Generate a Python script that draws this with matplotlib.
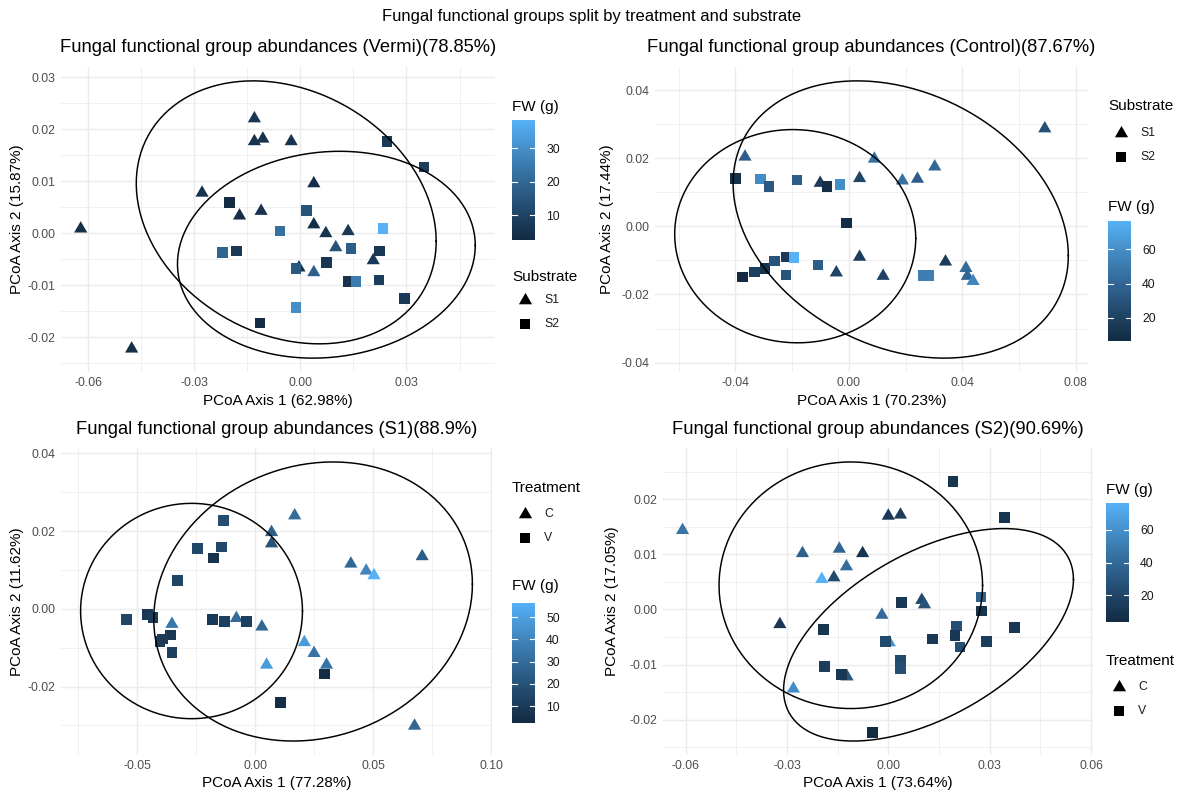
import numpy as np
import matplotlib
matplotlib.use("Agg")
import matplotlib.pyplot as plt
from matplotlib.colors import ListedColormap, Normalize, to_rgb
from matplotlib.path import Path
from matplotlib.ticker import FixedLocator, FuncFormatter

plt.rcParams['font.family'] = ['Liberation Sans', 'DejaVu Sans']

# ---------------------------------------------------------------- data
# Vermi samples, split by substrate
vermi_x = [-0.0621, -0.0477, -0.0278, -0.0130, -0.0130, -0.0106, -0.0026, -0.0172,
           -0.0111, 0.0038, 0.0038, 0.0072, 0.0100, 0.0135, -0.0004, 0.0038, 0.0206,
           0.0245, 0.0349, -0.0201, 0.0018, -0.0058, -0.0220, -0.0181, 0.0143, 0.0234,
           0.0224, 0.0074, -0.0012, 0.0135, 0.0157, 0.0222, 0.0295, -0.0012, -0.0114]
vermi_y = [0.0009, -0.0222, 0.0078, 0.0221, 0.0177, 0.0182, 0.0177, 0.0034,
           0.0043, 0.0096, 0.0017, 0.0000, -0.0027, 0.0004, -0.0066, -0.0075, -0.0052,
           0.0177, 0.0128, 0.0059, 0.0044, 0.0005, -0.0037, -0.0034, -0.0029, 0.0009,
           -0.0034, -0.0056, -0.0068, -0.0092, -0.0093, -0.0090, -0.0125, -0.0143, -0.0172]
vermi_fw = [4, 4, 5, 6, 5, 5, 5, 4, 5, 4, 4, 5, 14, 6, 5, 18, 7,
            7, 8, 3, 14, 22, 19, 7, 17, 38.5, 6, 6, 16, 5, 25, 8, 7, 30, 2.6]
vermi_group = ['S1'] * 17 + ['S2'] * 18

# Control samples, split by substrate
control_x = [0.0691, -0.0366, 0.0090, 0.0303, 0.0038, -0.0101, 0.0189, 0.0242,
             0.0038, -0.0044, 0.0121, 0.0341, 0.0413, 0.0418, 0.0438,
             -0.0400, -0.0312, -0.0281, -0.0182, -0.0077, -0.0031, -0.0008, -0.0374,
             -0.0333, -0.0296, -0.0263, -0.0222, -0.0194, -0.0222, -0.0108, 0.0263, 0.0283]
control_y = [0.0287, 0.0204, 0.0198, 0.0175, 0.0141, 0.0127, 0.0134, 0.0139,
             -0.0090, -0.0136, -0.0146, -0.0104, -0.0123, -0.0146, -0.0161,
             0.0141, 0.0139, 0.0117, 0.0136, 0.0117, 0.0122, 0.0010, -0.0149,
             -0.0134, -0.0124, -0.0102, -0.0090, -0.0092, -0.0143, -0.0114, -0.0144, -0.0144]
control_fw = [27, 35, 45, 40, 22, 16, 45, 35, 17, 20, 20, 16, 42, 40, 55,
              10, 58, 32, 35, 8, 60, 8, 6.6, 18, 12, 30, 15, 76.5, 30, 35, 52, 52]
control_group = ['S1'] * 15 + ['S2'] * 17

# Substrate S1 samples, split by treatment
s1_x = [0.0168, 0.0070, 0.0070, 0.0708, 0.0406, 0.0471, 0.0504, -0.0352,
        -0.0079, 0.0029, 0.0209, 0.0250, 0.0303, 0.0049, 0.0676,
        -0.0134, -0.0244, -0.0142, -0.0175, -0.0329, -0.0545, -0.0456, -0.0433,
        -0.0358, -0.0391, -0.0402, -0.0352, -0.0180, -0.0129, -0.0036, 0.0294, 0.0108]
s1_y = [0.0240, 0.0197, 0.0168, 0.0135, 0.0116, 0.0098, 0.0086, -0.0039,
        -0.0024, -0.0046, -0.0086, -0.0114, -0.0144, -0.0144, -0.0301,
        0.0228, 0.0156, 0.0159, 0.0131, 0.0073, -0.0028, -0.0014, -0.0022,
        -0.0067, -0.0078, -0.0084, -0.0112, -0.0028, -0.0033, -0.0033, -0.0168, -0.0241]
s1_fw = [30, 25, 20, 24, 28, 40, 56.3, 35, 30, 28, 48, 33, 33, 48, 28,
         18, 15, 15, 6, 14, 14, 8, 10, 8, 10, 10, 12, 9, 12, 12, 2.5, 4]
s1_group = ['C'] * 15 + ['V'] * 17

# Substrate S2 samples, split by treatment
s2_x = [-0.0609, 0.0000, 0.0036, -0.0254, -0.0145, -0.0076, -0.0124, -0.0197,
        -0.0161, -0.0321, 0.0099, 0.0107, -0.0019, 0.0003, -0.0122, -0.0281,
        0.0191, 0.0344, 0.0039, 0.0274, 0.0276, -0.0192, 0.0201, 0.0197, 0.0130,
        0.0212, 0.0290, 0.0373, -0.0008, 0.0036, 0.0036, -0.0189, -0.0138, -0.0047]
s2_y = [0.0144, 0.0170, 0.0172, 0.0102, 0.0110, 0.0102, 0.0078, 0.0055,
        0.0058, -0.0027, 0.0017, 0.0009, -0.0010, -0.0060, -0.0122, -0.0144,
        0.0232, 0.0167, 0.0013, 0.0023, -0.0003, -0.0036, -0.0030, -0.0047, -0.0054,
        -0.0068, -0.0058, -0.0033, -0.0058, -0.0092, -0.0107, -0.0104, -0.0118, -0.0224]
s2_fw = [45, 12, 14, 35, 38, 10, 42, 76.2, 22, 12, 22, 28, 40, 60, 30, 58,
         10, 10, 12, 35, 10, 10, 25, 12, 12, 25, 15, 12, 22, 22, 25, 15, 12, 3.8]
s2_group = ['C'] * 16 + ['V'] * 18

# 95% confidence ellipses: centre x, centre y, half-range x, half-range y, x-y correlation
vermi_ellipses = [(-0.0040, 0.00405, 0.0424, 0.0253, -0.22),
                  (0.00735, -0.0041, 0.0421, 0.0199, 0.09)]
control_ellipses = [(0.0183, 0.0020, 0.0591, 0.0407, -0.26),
                    (-0.0189, -0.0029, 0.0425, 0.0313, -0.02)]
s1_ellipses = [(0.0246, 0.0019, 0.0675, 0.0359, 0.125),
               (-0.0269, -0.00055, 0.0470, 0.0277, 0.0)]
s2_ellipses = [(-0.0111, 0.0044, 0.0390, 0.0224, 0.0),
               (0.0119, -0.0046, 0.0429, 0.0193, 0.52)]

# axis breaks
vermi_xticks = [-0.06, -0.03, 0.00, 0.03]
vermi_yticks = [-0.02, -0.01, 0.00, 0.01, 0.02, 0.03]
control_xticks = [-0.04, 0.00, 0.04, 0.08]
control_yticks = [-0.04, -0.02, 0.00, 0.02, 0.04]
s1_xticks = [-0.05, 0.00, 0.05, 0.10]
s1_yticks = [-0.02, 0.00, 0.02, 0.04]
s2_xticks = [-0.06, -0.03, 0.00, 0.03, 0.06]
s2_yticks = [-0.02, -0.01, 0.00, 0.01, 0.02]

vermi_fw_breaks = [10, 20, 30]
control_fw_breaks = [20, 40, 60]
s1_fw_breaks = [10, 20, 30, 40, 50]
s2_fw_breaks = [20, 40, 60]

# ---------------------------------------------------------------- colours
def _lab(hexc):
    c = np.array(to_rgb(hexc))
    lin = np.where(c <= 0.04045, c / 12.92, ((c + 0.055) / 1.055) ** 2.4)
    M = np.array([[0.4124564, 0.3575761, 0.1804375],
                  [0.2126729, 0.7151522, 0.0721750],
                  [0.0193339, 0.1191920, 0.9503041]])
    xyz = M @ lin / np.array([0.95047, 1.0, 1.08883])
    e = 6 / 29
    f = np.where(xyz > e ** 3, np.cbrt(xyz), xyz / (3 * e ** 2) + 4 / 29)
    return np.array([116 * f[1] - 16, 500 * (f[0] - f[1]), 200 * (f[1] - f[2])])


def _rgb(lab):
    L, a, b = lab
    fy_ = (L + 16) / 116
    f = np.array([fy_ + a / 500, fy_, fy_ - b / 200])
    e = 6 / 29
    xyz = np.where(f > e, f ** 3, 3 * e ** 2 * (f - 4 / 29)) * np.array([0.95047, 1.0, 1.08883])
    Minv = np.array([[3.2404542, -1.5371385, -0.4985314],
                     [-0.9692660, 1.8760108, 0.0415560],
                     [0.0556434, -0.2040259, 1.0572252]])
    lin = Minv @ xyz
    c = np.where(lin <= 0.0031308, 12.92 * lin, 1.055 * np.clip(lin, 0, None) ** (1 / 2.4) - 0.055)
    return np.clip(c, 0, 1)


lab_lo, lab_hi = _lab('#132B43'), _lab('#56B1F7')
fw_cmap = ListedColormap([_rgb(lab_lo + t * (lab_hi - lab_lo)) for t in np.linspace(0, 1, 256)])

TRI = Path([(0, 1), (0.866, -0.5), (-0.866, -0.5), (0, 1)],
           [Path.MOVETO, Path.LINETO, Path.LINETO, Path.CLOSEPOLY])
MARKERS = {0: (TRI, 120), 1: ('s', 58)}

GRID = '#EBEBEB'
TICK_COL = '#4D4D4D'

# ---------------------------------------------------------------- figure
W, H = 1184, 795
fig = plt.figure(figsize=(W / 100, H / 100), dpi=100)
fig.patch.set_facecolor('white')


def fx(px):
    return px / W


def fy(py):
    return 1 - py / H


overlay = fig.add_axes([0, 0, 1, 1], zorder=5)
overlay.set_xlim(0, W)
overlay.set_ylim(H, 0)
overlay.axis('off')
overlay.patch.set_alpha(0)

fig.text(0.5, fy(17), 'Fungal functional groups split by treatment and substrate',
         ha='center', va='center', fontsize=11.9)

fmt = FuncFormatter(lambda v, p: f'{v:.2f}'.replace('\u2212', '-'))

panels = [
    dict(x=vermi_x, y=vermi_y, fw=vermi_fw, grp=vermi_group, levels=['S1', 'S2'],
         ell=vermi_ellipses, xt=vermi_xticks, yt=vermi_yticks, fwb=vermi_fw_breaks,
         title='Fungal functional group abundances (Vermi)(78.85%)',
         xlabel='PCoA Axis 1 (62.98%)', ylabel='PCoA Axis 2 (15.87%)',
         box=(61, 67, 495, 372), title_y=48, ylab_x=17,
         legend_title='Substrate', bar_left=512,
         fw_title_y=107, bar=(120, 240), shape_title_y=277, items=(300, 324)),
    dict(x=control_x, y=control_y, fw=control_fw, grp=control_group, levels=['S1', 'S2'],
         ell=control_ellipses, xt=control_xticks, yt=control_yticks, fwb=control_fw_breaks,
         title='Fungal functional group abundances (Control)(87.67%)',
         xlabel='PCoA Axis 1 (70.23%)', ylabel='PCoA Axis 2 (17.44%)',
         box=(655, 67, 1088, 372), title_y=48, ylab_x=607,
         legend_title='Substrate', bar_left=1108,
         fw_title_y=207, bar=(221, 341), shape_title_y=106, items=(133, 157)),
    dict(x=s1_x, y=s1_y, fw=s1_fw, grp=s1_group, levels=['C', 'V'],
         ell=s1_ellipses, xt=s1_xticks, yt=s1_yticks, fwb=s1_fw_breaks,
         title='Fungal functional group abundances (S1)(88.9%)',
         xlabel='PCoA Axis 1 (77.28%)', ylabel='PCoA Axis 2 (11.62%)',
         box=(61, 448, 492, 755), title_y=430, ylab_x=17,
         legend_title='Treatment', bar_left=512,
         fw_title_y=586, bar=(603, 723), shape_title_y=488, items=(514, 538)),
    dict(x=s2_x, y=s2_y, fw=s2_fw, grp=s2_group, levels=['C', 'V'],
         ell=s2_ellipses, xt=s2_xticks, yt=s2_yticks, fwb=s2_fw_breaks,
         title='Fungal functional group abundances (S2)(90.69%)',
         xlabel='PCoA Axis 1 (73.64%)', ylabel='PCoA Axis 2 (17.05%)',
         box=(663, 448, 1093, 755), title_y=430, ylab_x=612,
         legend_title='Treatment', bar_left=1106,
         fw_title_y=490, bar=(503, 622), shape_title_y=661, items=(687, 711)),
]


def minor_breaks(major, lo, hi):
    step = major[1] - major[0]
    cand = [major[0] - step / 2] + [m + step / 2 for m in major]
    return [c for c in cand if lo <= c <= hi]


def ellipse_path(cx, cy, wx, hy, rho):
    t = np.linspace(0, 2 * np.pi, 240)
    d = np.arccos(rho)
    return cx + wx * np.cos(t), cy + hy * np.cos(t - d)


for p in panels:
    l, t, r, b = p['box']
    ax = fig.add_axes([fx(l), fy(b), fx(r - l), (b - t) / H])
    ax.set_facecolor('white')
    for s in ax.spines.values():
        s.set_visible(False)

    x = np.array(p['x'])
    y = np.array(p['y'])
    fw = np.array(p['fw'], dtype=float)
    grp = np.array(p['grp'])
    norm = Normalize(fw.min(), fw.max())

    # limits from points and ellipses, expanded by 5%
    ex = np.concatenate([x] + [[e[0] - e[2], e[0] + e[2]] for e in p['ell']])
    ey = np.concatenate([y] + [[e[1] - e[3], e[1] + e[3]] for e in p['ell']])
    xr = ex.max() - ex.min()
    yr = ey.max() - ey.min()
    xlim = (ex.min() - 0.05 * xr, ex.max() + 0.05 * xr)
    ylim = (ey.min() - 0.05 * yr, ey.max() + 0.05 * yr)

    for k, lev in enumerate(p['levels']):
        m = grp == lev
        mk, sz = MARKERS[k]
        ax.scatter(x[m], y[m], c=fw[m], cmap=fw_cmap, norm=norm, marker=mk, s=sz,
                   linewidths=0, zorder=3)

    for e in p['ell']:
        px_, py_ = ellipse_path(*e)
        ax.plot(px_, py_, color='black', lw=1.07, zorder=4)

    ax.set_xlim(*xlim)
    ax.set_ylim(*ylim)
    ax.xaxis.set_major_locator(FixedLocator(p['xt']))
    ax.yaxis.set_major_locator(FixedLocator(p['yt']))
    ax.xaxis.set_minor_locator(FixedLocator(minor_breaks(p['xt'], *xlim)))
    ax.yaxis.set_minor_locator(FixedLocator(minor_breaks(p['yt'], *ylim)))
    ax.xaxis.set_major_formatter(fmt)
    ax.yaxis.set_major_formatter(fmt)
    ax.grid(which='major', color=GRID, lw=1.07)
    ax.grid(which='minor', color=GRID, lw=0.53)
    ax.set_axisbelow(True)
    ax.tick_params(which='both', length=0, labelsize=8.8, labelcolor=TICK_COL)
    ax.tick_params(axis='x', pad=3.5)
    ax.tick_params(axis='y', pad=4)

    ax.set_xlabel(p['xlabel'], fontsize=11)
    ax.xaxis.label.set_va('center')
    ax.xaxis.set_label_coords(fx((l + r) / 2), fy(b + 28.5), transform=fig.transFigure)
    ax.set_ylabel(p['ylabel'], fontsize=11)
    ax.yaxis.label.set_va('center')
    ax.yaxis.set_label_coords(fx(p['ylab_x']), fy((t + b) / 2), transform=fig.transFigure)

    fig.text(fx((l + r) / 2), fy(p['title_y']), p['title'], ha='center', va='center',
             fontsize=13.2)

    # colour bar legend
    bl = p['bar_left']
    bw = 23
    bt, bb = p['bar']
    fig.text(fx(bl), fy(p['fw_title_y']), 'FW (g)', ha='left', va='center', fontsize=11)
    cax = fig.add_axes([fx(bl), fy(bb), fx(bw), (bb - bt) / H])
    vals = np.linspace(norm.vmin, norm.vmax, 300)[:, None]
    cax.imshow(vals, cmap=fw_cmap, norm=norm, aspect='auto', origin='lower',
               extent=[0, 1, norm.vmin, norm.vmax], interpolation='bilinear')
    cax.set_xlim(0, 1)
    cax.set_ylim(norm.vmin, norm.vmax)
    for s in cax.spines.values():
        s.set_visible(False)
    cax.set_xticks([])
    cax.yaxis.tick_right()
    cax.set_yticks(p['fwb'])
    cax.set_yticklabels([str(v) for v in p['fwb']])
    cax.tick_params(axis='y', length=0, pad=8, labelsize=8.8, labelcolor='#1A1A1A')
    for v in p['fwb']:
        cax.plot([0, 0.2], [v, v], color='white', lw=0.8)
        cax.plot([0.8, 1], [v, v], color='white', lw=0.8)

    # shape legend
    fig.text(fx(bl), fy(p['shape_title_y']), p['legend_title'], ha='left', va='center',
             fontsize=11)
    for k, (lev, iy) in enumerate(zip(p['levels'], p['items'])):
        mk, sz = MARKERS[k]
        overlay.scatter([bl + 13], [iy], marker=mk, s=sz, color='black', linewidths=0)
        overlay.text(bl + 32, iy, lev, ha='left', va='center', fontsize=8.8,
                     color='#1A1A1A')

fig.savefig('out.png', dpi=100, facecolor='white')
